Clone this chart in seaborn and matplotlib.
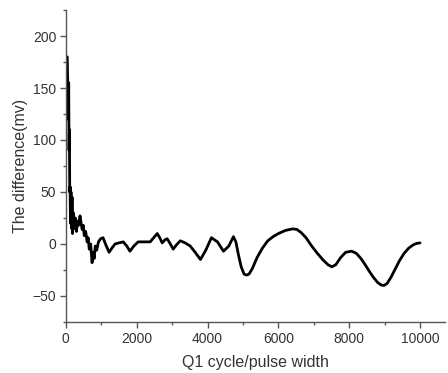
import numpy as np
import pandas as pd
import seaborn as sns
import matplotlib.pyplot as plt
from matplotlib.ticker import MultipleLocator

# values
cycle = [40, 50, 60, 70, 80, 90, 100, 110, 120, 130, 145, 160, 175, 190, 210,
         240, 270, 300, 330, 360, 400, 430, 460, 490, 520, 560, 600, 630, 660,
         700, 740, 770, 800, 830, 870, 920, 980, 1050, 1130, 1220, 1300, 1390,
         1500, 1620, 1720, 1810, 1920, 2040, 2200, 2380, 2480, 2580, 2650, 2720,
         2800, 2860, 2950, 3030, 3120, 3230, 3370, 3510, 3650, 3800, 3950, 4110,
         4280, 4450, 4600, 4730, 4800, 4870, 4950, 5030, 5100, 5170, 5260, 5400,
         5550, 5700, 5850, 6000, 6200, 6400, 6520, 6640, 6780, 6940, 7100, 7250,
         7400, 7510, 7620, 7760, 7900, 8070, 8200, 8330, 8450, 8560, 8680, 8800,
         8900, 8980, 9070, 9180, 9300, 9420, 9550, 9680, 9800, 9900, 10000]
diff_mv = [180, 160, 150, 120, 155, 90, 110, 50, 55, 20, 50, 15, 45, 10, 30,
           15, 25, 12, 22, 18, 27, 20, 14, 18, 8, 12, 2, 6, -5,
           0, -18, -8, -14, -2, -6, 2, 5, 6, -1, -8, -4, 0,
           1, 2, -2, -7, -2, 2, 2, 2, 6, 10, 6, 1,
           4, 5, 0, -5, -1, 3, 1, -2, -8, -15, -6, 6,
           2, -7, -2, 7, 2, -10, -22, -29, -30, -29, -24, -13,
           -4, 3, 7, 10, 13, 14.5, 14, 11, 6, -2, -9, -15,
           -20, -22, -20, -13, -8, -7, -9, -14, -20, -26, -32, -37,
           -39.5, -40, -38, -32, -24, -16, -9, -4, -1, 0.5, 1]

df = pd.DataFrame({"cycle": cycle, "diff": diff_mv})

sns.set_style("ticks")
plt.rcParams["font.family"] = ["Liberation Sans", "DejaVu Sans"]

fig = plt.figure(figsize=(4.48, 3.73), dpi=100)
ax = fig.add_axes([0.147, 0.137, 0.846, 0.836])
sns.lineplot(data=df, x="cycle", y="diff", ax=ax, color="black", linewidth=2.0,
             sort=False)

ax.set_xlim(0, 10700)
ax.set_ylim(-75, 225)
ax.xaxis.set_major_locator(MultipleLocator(2000))
ax.xaxis.set_minor_locator(MultipleLocator(1000))
ax.yaxis.set_major_locator(MultipleLocator(50))
ax.yaxis.set_minor_locator(MultipleLocator(25))
ax.set_yticks([-50, 0, 50, 100, 150, 200])

sns.despine(ax=ax)
for s in ["left", "bottom"]:
    ax.spines[s].set_color("#555555")
    ax.spines[s].set_linewidth(1.0)
ax.tick_params(which="major", direction="out", length=4, width=1.0,
               color="#555555", labelsize=10, labelcolor="#333333", pad=3)
ax.tick_params(which="minor", direction="out", length=2.5, width=1.0,
               color="#555555")

ax.set_xlabel("Q1 cycle/pulse width", fontsize=11.5, color="#333333", labelpad=7)
ax.set_ylabel("The difference(mv)", fontsize=11.5, color="#333333", labelpad=3)

fig.savefig("out.png", dpi=100)
